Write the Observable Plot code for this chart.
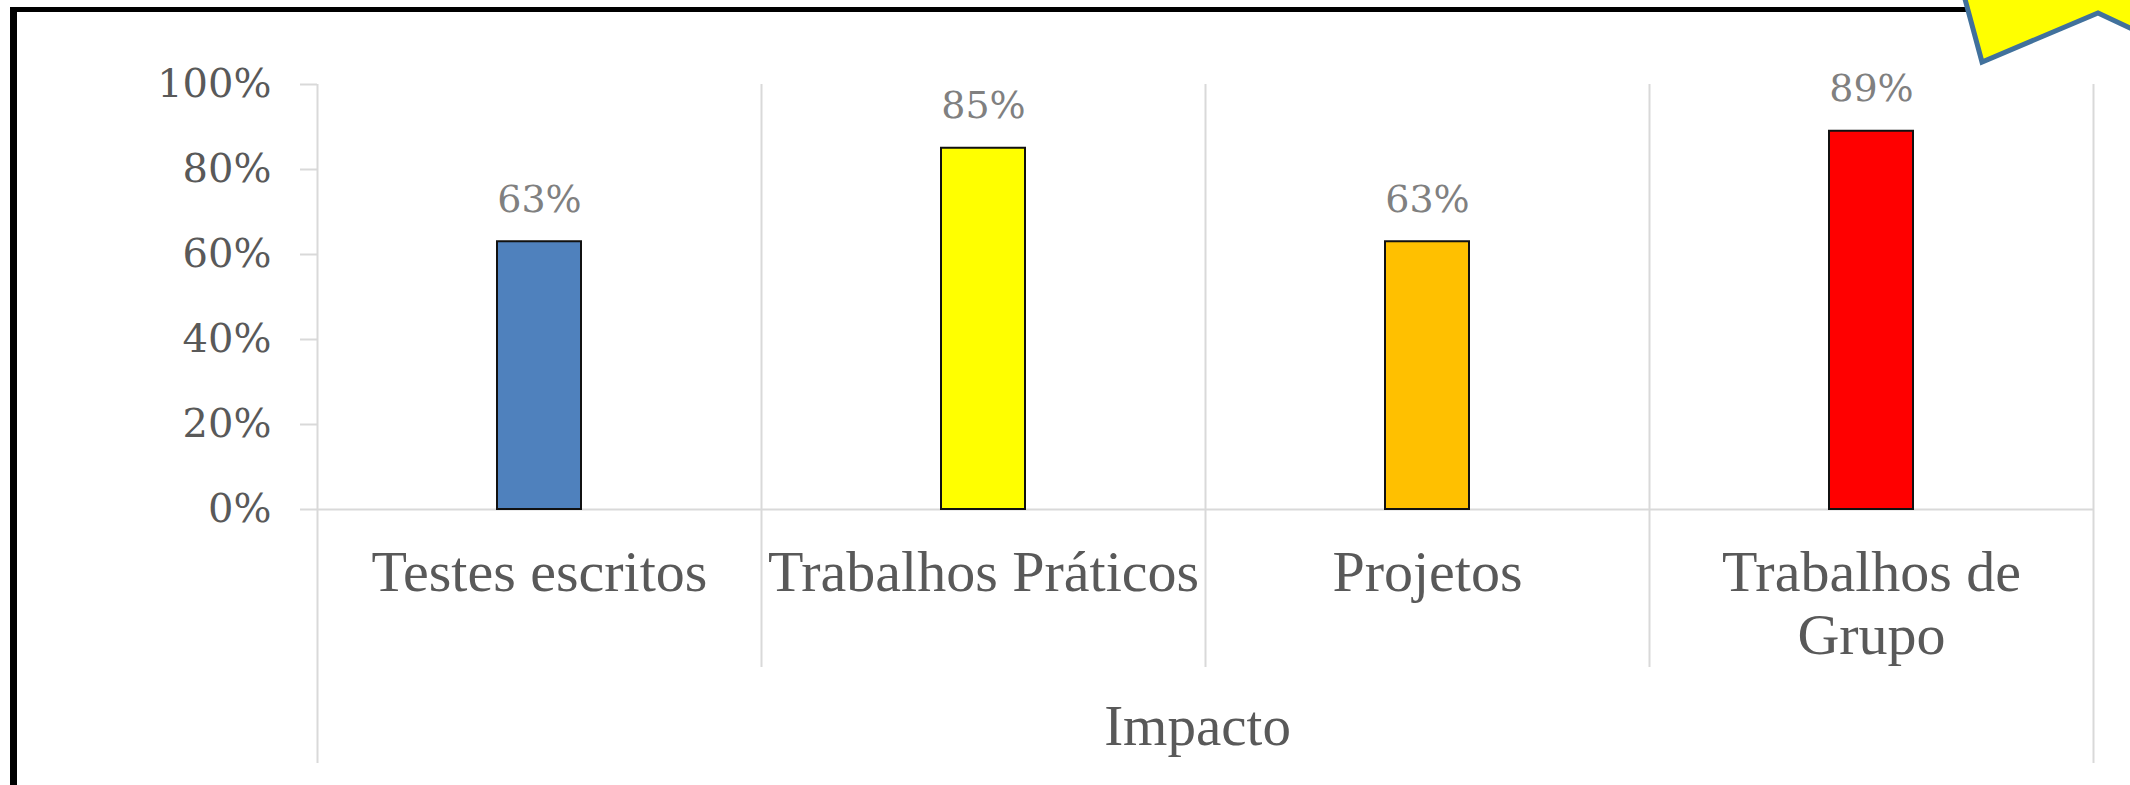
<!DOCTYPE html>
<html>
<head>
<meta charset="utf-8">
<script src="https://cdn.jsdelivr.net/npm/d3@7"></script>
<script src="https://cdn.jsdelivr.net/npm/@observablehq/plot@0.6"></script>
<style>
  html, body { margin: 0; padding: 0; background: #fff; overflow: hidden; }
  #wrap { position: relative; width: 2130px; height: 785px; overflow: hidden; background: #fff; }
  #frame { position: absolute; left: 10px; top: 7px; width: 2300px; height: 900px;
           border-left: 7px solid #000; border-top: 5px solid #000; box-sizing: border-box; }
  #chart { position: absolute; left: 0; top: 0; }
  #callout { position: absolute; left: 0; top: 0; }
</style>
</head>
<body>
<div id="wrap">
  <div id="frame"></div>
  <div id="chart"></div>
  <svg id="callout" width="2130" height="785">
    <polygon points="1962,-12 1982,62 2098,13 2145,35 2145,-12" fill="#FFFF00" stroke="#41719C" stroke-width="5" stroke-linejoin="miter"/>
  </svg>
</div>
<script>
const categories = ["Testes escritos", "Trabalhos Práticos", "Projetos", "Trabalhos de Grupo"];
const categoryLabels = ["Testes escritos", "Trabalhos Práticos", "Projetos", "Trabalhos de\nGrupo"];
const values = [0.63, 0.85, 0.63, 0.89];
const barColors = ["#4F81BD", "#FFFF00", "#FFC000", "#FF0000"];
const yTicks = [0, 0.2, 0.4, 0.6, 0.8, 1];
const groupLabel = "Impacto";

const W = 2130, H = 785, ML = 317, MR = 37, MT = 84, MB = 276;
const bw = (W - ML - MR) / categories.length;
const idx = d3.range(categories.length);
const pct = v => Math.round(v * 100) + "%";
const grid = "#d9d9d9";

const chart = Plot.plot({
  width: W, height: H,
  marginLeft: ML, marginRight: MR, marginTop: MT, marginBottom: MB,
  style: { background: "transparent", overflow: "visible" },
  x: { domain: categories, padding: 0, axis: null },
  y: { domain: [0, 1], axis: null },
  color: { type: "identity" },
  marks: [
    // left axis line and right edge (extend to bottom of group label area)
    Plot.ruleX([categories[0]], { dx: -bw / 2, stroke: grid, strokeWidth: 2, insetBottom: -254 }),
    Plot.ruleX([categories[categories.length - 1]], { dx: bw / 2, stroke: grid, strokeWidth: 2, insetBottom: -254 }),
    // inner category separators
    Plot.ruleX(categories.slice(1), { dx: -bw / 2, stroke: grid, strokeWidth: 2, insetBottom: -158 }),
    Plot.ruleY([0], { stroke: grid, strokeWidth: 2 }),
    Plot.axisY({
      ticks: yTicks, tickFormat: pct, tickSize: 17, tickPadding: 29,
      stroke: grid, strokeWidth: 2, fill: "#595959",
      fontSize: 40, fontFamily: "DejaVu Serif"
    }),
    Plot.barY(idx, {
      x: i => categories[i], y: i => values[i], fill: i => barColors[i],
      stroke: "#111", strokeWidth: 2, insetLeft: 180, insetRight: 180
    }),
    Plot.text(idx, {
      x: i => categories[i], y: i => values[i], text: i => pct(values[i]),
      dy: -30, lineAnchor: "bottom", fontSize: 38, fontFamily: "DejaVu Serif", fill: "#808080"
    }),
    Plot.text(idx, {
      x: i => categories[i], text: i => categoryLabels[i],
      frameAnchor: "bottom", lineAnchor: "top", lineHeight: 1.086, dy: 37,
      fontSize: 58, fontFamily: "Liberation Serif", fill: "#595959"
    }),
    Plot.text([groupLabel], {
      text: d => d, frameAnchor: "bottom", lineAnchor: "bottom", dy: 235, dx: -8,
      fontSize: 57, fontFamily: "Liberation Serif", fill: "#595959"
    })
  ]
});
document.getElementById("chart").appendChild(chart);
</script>
</body>
</html>
